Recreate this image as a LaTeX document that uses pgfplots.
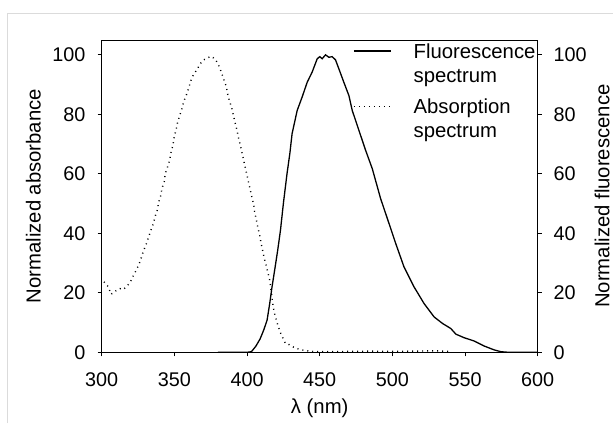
\documentclass[border=0pt]{standalone}
\usepackage{fontspec}
\setmainfont{Liberation Sans}
\usepackage{pgfplots}
\pgfplotsset{compat=1.18}

% fluorescence (solid) and absorption (dotted)
\pgfplotstableread{
nm   val
380  0
390  0
400  0
403  0.2
406  2
409  4.5
411.5 7.5
413.8 10.8
415.6 16.4
417.2 22
419  27.6
421.1 34.3
423  41
425  50
427.5 60
429.5 67
431  73.5
434.5 81.3
437.9 85.8
441.4 90.8
444.8 94.2
448.3 98.7
450.1 99.4
451.7 98.7
454  100
456.3 99.2
458.6 99.4
460.9 98.3
463.2 95.3
466.6 90.8
470.1 86.3
472.4 81.3
477  74.6
481.6 67.9
486.2 61.7
491.9 51.7
497.7 43.3
502.3 36.6
508  28.7
514.9 22
521.8 16.4
528.7 11.9
534.5 9.7
540.2 8
543.7 6.1
549.4 4.9
556.3 3.8
563.2 2.1
570.1 0.8
574.7 0.2
580  0
590  0
600  0
}\fluor

\pgfplotstableread{
nm   val
301.6 23.7
304.6 22
306.4 19.5
309.9 20.7
312.6 21.4
314.9 21.1
317.2 22.2
319.5 23.4
321.8 25.8
324.1 27.9
325.9 29.9
327.6 32.3
328.7 34.1
330.6 36.3
332.2 38.6
333.8 41
335.6 43.3
336.8 45.7
338.4 48
339  50.2
340.7 52.8
341.4 55
343  57.2
343.7 60
345.3 62.3
346.7 64.5
347.6 67
349  69.6
349.9 72.4
351.2 74.8
352.1 77
353.5 79.3
355.2 81.9
356.3 84.1
358.1 86.3
359.7 88.6
361.4 91.4
363.2 93.4
365.5 95
367.8 97
370.1 98.3
372.8 99
375.2 99.5
378.1 98.6
380.4 96.6
382.3 94.2
383.9 91.9
385.7 89.4
386.6 86.9
388  84.4
389.6 81.9
390.8 79.3
392  76.8
393.1 74.6
394.2 72
395.4 69.6
396.6 67
397.7 64.5
398.8 62.1
400  59.5
401.1 57
402.3 54.5
403.4 52
404.6 49.7
405.2 47.2
406.4 44.6
407.6 41.6
408.7 39.4
409.7 36.6
410.8 34.1
411.9 31.5
413.3 29
414.5 26.5
415.6 24.3
416.8 19.8
418  15.3
419  12.9
420.2 10.8
421.4 8.8
423  6.6
424.8 4.7
426.4 3
428.3 2.8
430  2.2
433  1.5
436  1
440  0.6
445  0.3
455  0.2
470  0.3
485  0.4
500  0.3
515  0.4
530  0.5
540  0.3
}\absorb

\newcommand{\tickfont}{\fontsize{19.8}{23}\selectfont}
\newcommand{\labfont}{\fontsize{20.3}{24}\selectfont}

\begin{document}
\begin{tikzpicture}
\path[use as bounding box] (-101.7pt,-70.7pt) rectangle (511.3pt,352.3pt);
\draw[color=black!14, line width=1pt] (-93.7pt,-70.7pt) -- (-93.7pt,338.8pt) -- (511.3pt,338.8pt);

\pgfplotsset{
  spec/.style={
    scale only axis, width=436pt, height=312.3pt,
    xmin=300, xmax=600, ymin=0, ymax=105,
    ytick={0,20,...,100}, xtick={300,350,...,600},
    tick align=outside, major tick length=4pt,
    tick style={black, line width=0.8pt},
    axis line style={line width=0.9pt},
    /pgf/number format/assume math mode=true,
  }
}

\begin{axis}[spec,
  xtick pos=bottom, ytick pos=left,
  every x tick label/.style={font=\tickfont, inner sep=0pt, anchor=center, yshift=-23.4pt},
  every y tick label/.style={font=\tickfont, inner sep=0pt, anchor=east, xshift=-12pt},
  xlabel={λ (nm)}, ylabel={Normalized absorbance},
  every axis x label/.style={at={(axis description cs:0.5,0)}, yshift=-55.7pt, anchor=center,
    font=\labfont},
  every axis y label/.style={at={(axis description cs:0,0.5)}, xshift=-68.4pt, rotate=90, anchor=center,
    font=\labfont},
  legend style={draw=none, fill=none, at={(rel axis cs:0.5764,0.99)}, anchor=north west,
    inner sep=0pt, row sep=14.5pt, font=\fontsize{20.3}{24.5}\selectfont,
    nodes={align=left, inner sep=0pt},
    cells={anchor=base west},
    /tikz/every odd column/.append style={column sep=22pt}},
  legend image code/.code={\draw[#1] (0pt,31.5pt) -- (37pt,31.5pt);},
]
\addplot[black, line width=1.3pt] table[x=nm, y=val] {\fluor};
\addlegendentry{Fluorescence\\spectrum}
\addplot[black, line width=1.4pt, dash pattern=on 1pt off 4pt] table[x=nm, y=val] {\absorb};
\addlegendentry{Absorption\\spectrum}
\end{axis}

\begin{axis}[spec,
  axis x line=none, axis y line*=right,
  every y tick label/.style={font=\tickfont, inner sep=0pt, anchor=west, xshift=11.6pt},
  ylabel={Normalized fluorescence},
  every axis y label/.style={at={(axis description cs:1,0.5)}, xshift=64.3pt, rotate=90, anchor=center,
    font=\labfont},
]
\end{axis}
\end{tikzpicture}
\end{document}
